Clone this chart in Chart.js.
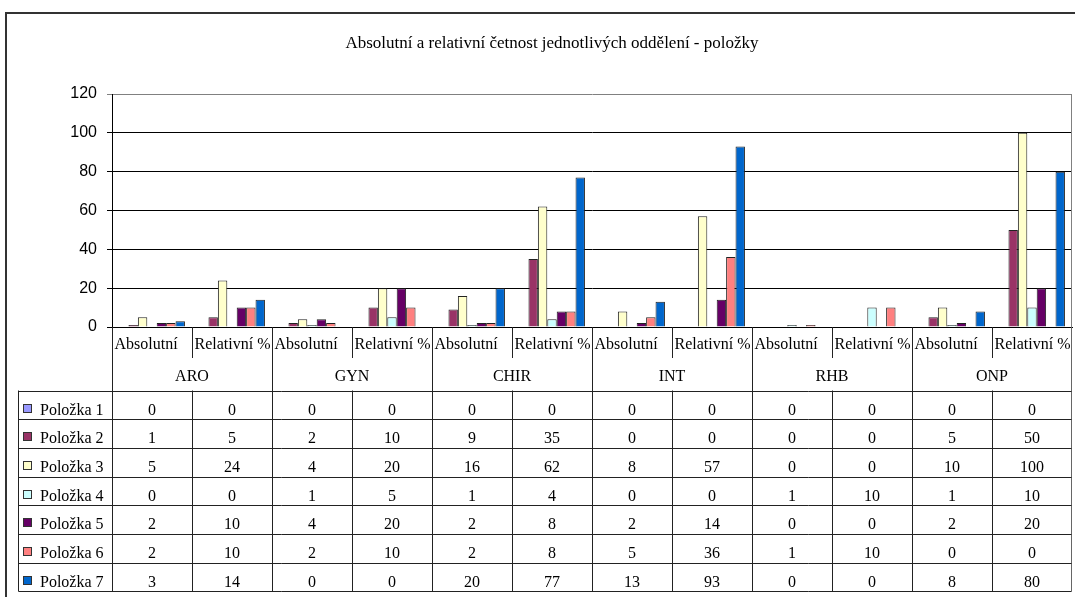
<!DOCTYPE html>
<html>
<head>
<meta charset="utf-8">
<title>Absolutní a relativní četnost</title>
<script src="https://cdn.jsdelivr.net/npm/chart.js@4/dist/chart.umd.min.js"></script>
<style>
	html, body {margin: 0; padding: 0; background: #fff;}
	#wrap {width: 1075px; height: 597px;}
</style>
</head>
<body>
<div id="wrap"><canvas id="chart" width="1075" height="597"></canvas></div>
<script>
'use strict';

const
	chartTitle = 'Absolutní a relativní četnost jednotlivých oddělení - položky',
	departments = ['ARO', 'GYN', 'CHIR', 'INT', 'RHB', 'ONP'],
	measures = ['Absolutní', 'Relativní %'],
	seriesNames = ['Položka 1', 'Položka 2', 'Položka 3', 'Položka 4', 'Položka 5', 'Položka 6', 'Položka 7'],
	seriesColors = ['#9999FF', '#993366', '#FFFFCC', '#CCFFFF', '#660066', '#FF8080', '#0066CC'];

// values per column: ARO abs/rel, GYN abs/rel, CHIR, INT, RHB, ONP
const
	polozka1 = [0, 0, 0, 0, 0, 0, 0, 0, 0, 0, 0, 0],
	polozka2 = [1, 5, 2, 10, 9, 35, 0, 0, 0, 0, 5, 50],
	polozka3 = [5, 24, 4, 20, 16, 62, 8, 57, 0, 0, 10, 100],
	polozka4 = [0, 0, 1, 5, 1, 4, 0, 0, 1, 10, 1, 10],
	polozka5 = [2, 10, 4, 20, 2, 8, 2, 14, 0, 0, 2, 20],
	polozka6 = [2, 10, 2, 10, 2, 8, 5, 36, 1, 10, 0, 0],
	polozka7 = [3, 14, 0, 0, 20, 77, 13, 93, 0, 0, 8, 80];

const
	yMin = 0,
	yMax = 120,
	yStep = 20;

const
	seriesValues = [polozka1, polozka2, polozka3, polozka4, polozka5, polozka6, polozka7],
	labels = [];

departments.forEach((dep) => measures.forEach((m) => labels.push([m, dep])));

const
	SERIF = '"Liberation Serif", "Times New Roman", serif',
	SANS = '"Liberation Sans", Arial, sans-serif',
	LINE = '#222',
	TABLE_TOP = 390.5,
	ROW_H = 28.7;

/**
 * Crisp line helper
 */
function line(ctx, x1, y1, x2, y2, color, width = 1) {
	ctx.save();
	ctx.strokeStyle = color;
	ctx.lineWidth = width;
	ctx.beginPath();
	ctx.moveTo(x1, y1);
	ctx.lineTo(x2, y2);
	ctx.stroke();
	ctx.restore();
}

/**
 * Title, category axis labels, data table and frame
 */
const tablePlugin = {
	id: 'dataTable',

	afterDraw(chart) {
		const
			{ctx, scales: {x, y}} = chart,
			n = labels.length,
			colW = (x.right - x.left) / n,
			left = Math.round(x.left) + 0.5,
			right = Math.round(x.right) - 0.5,
			axisY = y.bottom,
			tableBottom = TABLE_TOP + ROW_H * seriesNames.length,
			colX = (i) => Math.round(x.left + i * colW) + 0.5;

		ctx.save();

		// outer frame
		line(ctx, 6, 13, 1075, 13, '#333', 2);
		line(ctx, 6, 12, 6, 597, '#333', 2);

		// plot right border
		line(ctx, right, y.top, right, axisY, '#808080');

		// title
		ctx.fillStyle = '#000';
		ctx.font = `17px ${SERIF}`;
		ctx.textAlign = 'center';
		ctx.textBaseline = 'alphabetic';
		ctx.fillText(chartTitle, 552, 48);

		// category labels
		ctx.font = `16px ${SERIF}`;
		ctx.textAlign = 'left';
		labels.forEach(([m], i) => {
			ctx.fillText(m, colX(i) + 2, axisY + 22, colW - 4);
		});

		ctx.textAlign = 'center';
		departments.forEach((dep, i) => {
			ctx.fillText(dep, x.left + (2 * i + 1) * colW, axisY + 54);
		});

		// vertical separators
		for (let i = 0; i <= n; i++) {
			const
				cx = i === n ? right : colX(i),
				color = i === n ? '#666' : LINE;

			if (i % 2 === 0) {
				line(ctx, cx, axisY, cx, tableBottom, color);

			} else {
				line(ctx, cx, axisY, cx, axisY + 31, color);
				line(ctx, cx, TABLE_TOP, cx, tableBottom, color);
			}
		}

		// table rows
		const tl = 18.5;
		line(ctx, tl, TABLE_TOP, tl, tableBottom, LINE);

		for (let r = 0; r <= seriesNames.length; r++) {
			const ry = Math.round(TABLE_TOP + r * ROW_H) + 0.5;
			line(ctx, tl, ry, right, ry, LINE);
		}

		seriesNames.forEach((name, r) => {
			const
				top = Math.round(TABLE_TOP + r * ROW_H),
				base = top + 23.5;

			ctx.fillStyle = seriesColors[r];
			ctx.fillRect(23.5, top + 13.5, 8, 8);
			ctx.strokeStyle = '#333';
			ctx.lineWidth = 1;
			ctx.strokeRect(23.5, top + 13.5, 8, 8);

			ctx.fillStyle = '#000';
			ctx.font = `16px ${SERIF}`;
			ctx.textAlign = 'left';
			ctx.fillText(name, 40, base);

			ctx.textAlign = 'center';
			seriesValues[r].forEach((v, i) => {
				ctx.fillText(String(v), x.left + (i + 0.5) * colW, base);
			});
		});

		ctx.restore();
	}
};

new Chart(document.getElementById('chart').getContext('2d'), {
	type: 'bar',
	data: {
		labels,
		datasets: seriesNames.map((name, i) => ({
			label: name,
			data: seriesValues[i],
			backgroundColor: seriesColors[i],
			borderColor: '#222',
			borderWidth: 1,
			categoryPercentage: 7 / 8.5,
			barPercentage: 1
		}))
	},
	options: {
		responsive: false,
		animation: false,
		devicePixelRatio: 1,
		layout: {
			padding: {top: 94, right: 3, bottom: 270, left: 0}
		},
		plugins: {
			legend: {display: false},
			title: {display: false},
			tooltip: {enabled: false}
		},
		scales: {
			x: {
				ticks: {display: false},
				grid: {display: false},
				border: {color: '#000'},
				afterFit: (s) => {
					s.height = 0;
				}
			},
			y: {
				min: yMin,
				max: yMax,
				ticks: {
					stepSize: yStep,
					padding: 10,
					color: '#000',
					font: {family: SANS, size: 16}
				},
				grid: {
					tickLength: 5,
					color: (c) => (c.tick && c.tick.value === yMax ? '#808080' : '#000')
				},
				border: {color: '#000'},
				afterFit: (s) => {
					s.width = 112;
				}
			}
		}
	},
	plugins: [tablePlugin]
});
</script>
</body>
</html>
